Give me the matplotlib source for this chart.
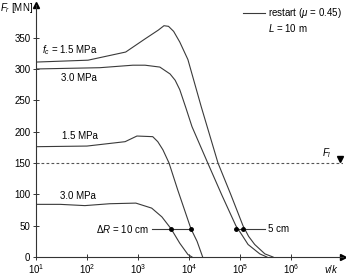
import numpy as np
import matplotlib.pyplot as plt
from matplotlib.ticker import NullLocator, FixedLocator

plt.rcParams['font.family'] = ['Liberation Sans', 'DejaVu Sans']
plt.rcParams['mathtext.fontset'] = 'custom'
plt.rcParams['mathtext.rm'] = 'Liberation Sans'
plt.rcParams['mathtext.it'] = 'Liberation Sans:italic'
plt.rcParams['font.size'] = 7

# curves: v/k and F_r [MN]
vk_fc15_hi = [10, 105, 575, 1380, 2510, 3240, 3980, 5010, 6610, 9550, 17400, 37150, 66000, 114800, 148000, 195000, 309000, 447000]
fr_fc15_hi = [311, 314, 327, 348, 362, 369, 368, 360, 343, 315, 240, 150, 100, 50, 33, 20, 5, 0]

vk_fc30_hi = [10, 178, 794, 1380, 2690, 4270, 5370, 6610, 8710, 11480, 23400, 44670, 83200, 110000, 144500, 245500, 339000]
fr_fc30_hi = [300, 302, 306, 306, 303, 292, 282, 267, 238, 208, 150, 98, 50, 35, 20, 5, 0]

vk_fc15_lo = [10, 100, 560, 955, 1950, 2450, 3090, 4070, 6030, 10960, 14450, 18600]
fr_fc15_lo = [176, 177, 184, 193, 192, 184, 171, 150, 107, 45, 25, 0]

vk_fc30_lo = [10, 30, 91, 280, 910, 1860, 2950, 4470, 6610, 9550, 11500]
fr_fc30_lo = [84, 84, 82, 85, 86, 78, 64, 45, 22, 4, 0]

F_l = 150
dR_level = 45
dR10_pts = [4470, 10960]
dR5_pts = [83200, 114800]

xticks = [1e1, 1e2, 1e3, 1e4, 1e5, 1e6]
yticks = [0, 50, 100, 150, 200, 250, 300, 350]


def main():
    fig = plt.figure(figsize=(3.46, 2.76), dpi=100)
    ax = fig.add_axes([0.104, 0.0688, 0.887, 0.913])
    lc = '#3a3a3a'

    for vk, fr in [(vk_fc15_hi, fr_fc15_hi), (vk_fc30_hi, fr_fc30_hi),
                   (vk_fc15_lo, fr_fc15_lo), (vk_fc30_lo, fr_fc30_lo)]:
        ax.plot(vk, fr, color=lc, lw=0.8)

    # F_l level
    ax.axhline(F_l, color='#555555', lw=0.8, ls=(0, (2.5, 2)))
    ax.text(5.0e6, 166, '$F_l$', ha='center', va='center', fontsize=7)
    ax.plot(9.0e6, 156, marker='v', color='k', ms=4.5, clip_on=False)

    # delta R markers
    ax.plot([1860, dR10_pts[1]], [dR_level, dR_level], color=lc, lw=0.8)
    ax.plot(dR10_pts, [dR_level] * 2, 'o', color='k', ms=2.5)
    ax.text(1580, dR_level, r'$\Delta R$ = 10 cm', ha='right', va='center')
    ax.plot([dR5_pts[0], 309000], [dR_level, dR_level], color=lc, lw=0.8)
    ax.plot(dR5_pts, [dR_level] * 2, 'o', color='k', ms=2.5)
    ax.text(355000, dR_level, '5 cm', ha='left', va='center')

    # curve labels
    ax.text(13, 330, '$f_c$ = 1.5 MPa', ha='left', va='center')
    ax.text(69, 286, '3.0 MPa', ha='center', va='center')
    ax.text(32, 193, '1.5 MPa', ha='left', va='center')
    ax.text(30, 97, '3.0 MPa', ha='left', va='center')

    # legend-ish text
    ax.plot([114800, 309000], [390, 390], color=lc, lw=0.8)
    ax.text(355000, 390, r'restart ($\mu$ = 0.45)', ha='left', va='center')
    ax.text(355000, 366, '$L$ = 10 m', ha='left', va='center')

    ax.set_xscale('log')
    ax.set_xlim(10, 10 ** 7.02)
    ax.set_ylim(0, 402)
    ax.xaxis.set_major_locator(FixedLocator(xticks))
    ax.xaxis.set_minor_locator(NullLocator())
    ax.set_yticks(yticks)
    ax.tick_params(direction='inout', length=4, width=0.7, colors='#333333', labelcolor='black', pad=2)

    for s in ['top', 'right']:
        ax.spines[s].set_visible(False)
    for s in ['left', 'bottom']:
        ax.spines[s].set_linewidth(0.8)
        ax.spines[s].set_color('#333333')
    ax.plot(1, 0, '>', color='k', ms=5, transform=ax.transAxes, clip_on=False)
    ax.plot(0, 1, '^', color='k', ms=5, transform=ax.transAxes, clip_on=False)

    ax.text(-0.117, 0.988, '$F_r$ [MN]', transform=ax.transAxes, ha='left', va='center')
    ax.text(0.962, -0.022, '$v/k$', transform=ax.transAxes, ha='center', va='top')

    fig.savefig('out.png', dpi=100)


if __name__ == '__main__':
    main()
